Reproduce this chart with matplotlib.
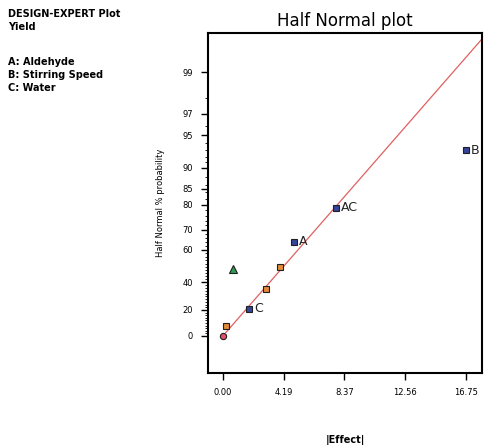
import numpy as np
import matplotlib
matplotlib.use("Agg")
import matplotlib.pyplot as plt
from math import erf, sqrt

# ---- data ----
effects = [0.0, 0.19, 1.81, 2.96, 3.93, 4.91, 7.79, 16.75]
probs = [0.0, 7.8, 20.9, 35.5, 49.7, 64.2, 79.0, 93.0]
labels = ["", "", "C", "", "", "A", "AC", "B"]
kinds = ["red", "orange", "blue", "orange", "orange", "blue", "blue", "blue"]
error_effect = [0.71]
error_prob = [48.9]
line_slope = 0.1626  # z per unit effect

yticks = [0, 20, 40, 60, 70, 80, 85, 90, 95, 97, 99]
xticks = [0.00, 4.19, 8.37, 12.56, 16.75]
xticklabels = ["0.00", "4.19", "8.37", "12.56", "16.75"]


def z_of(p):
    # half-normal quantile of percent p
    q = 0.5 + p / 200.0
    lo, hi = -10.0, 10.0
    for _ in range(80):
        mid = (lo + hi) / 2
        if 0.5 * (1 + erf(mid / sqrt(2))) < q:
            lo = mid
        else:
            hi = mid
    return (lo + hi) / 2


fig = plt.figure(figsize=(4.84, 4.45), dpi=100)
ax = fig.add_axes([0.4298, 0.1618, 0.5661, 0.764])

colors = {"red": ("#e0506a", "o"), "orange": ("#e08a3a", "s"), "blue": ("#34459a", "s")}
for e, p, lab, k in zip(effects, probs, labels, kinds):
    c, m = colors[k]
    ax.plot([e], [z_of(p)], marker=m, ms=4.5, mfc=c, mec="#202020", mew=0.8, ls="none", zorder=3)
    if lab:
        ax.text(e + 0.35, z_of(p), lab, fontsize=9, va="center", ha="left", color="#222222")

ax.plot(error_effect, [z_of(p) for p in error_prob], marker="^", ms=5.5, mfc="#2e9a55",
        mec="#202020", mew=0.8, ls="none", zorder=3)

xs = np.array([0.2, 18.5])
ax.plot(xs, line_slope * xs, color="#e06060", lw=0.9, zorder=2)

ax.set_xlim(-1.03, 17.85)
ax.set_ylim(-0.363, 2.96)

ax.set_xticks(xticks)
ax.set_xticklabels(xticklabels, fontsize=6)
ax.set_yticks([z_of(p) for p in yticks])
ax.set_yticklabels([str(p) for p in yticks], fontsize=6)
minor = list(range(2, 90, 2)) + list(range(90, 99, 1))
ax.set_yticks([z_of(p) for p in minor], minor=True)
ax.tick_params(axis="both", direction="out", width=1.0, length=5, pad=6)
ax.tick_params(axis="y", which="minor", direction="out", width=0.6, length=2.5)
for s in ax.spines.values():
    s.set_linewidth(1.5)

ax.set_title("Half Normal plot", fontsize=12, pad=5)
ax.set_xlabel("|Effect|", fontsize=7, fontweight="bold")
ax.xaxis.set_label_coords(0.5, -0.183)
ax.set_ylabel("Half Normal % probability", fontsize=6, labelpad=12)

fig.text(0.017, 0.968, "DESIGN-EXPERT Plot", fontsize=7, fontweight="bold", va="center")
fig.text(0.017, 0.939, "Yield", fontsize=7, fontweight="bold", va="center")
fig.text(0.017, 0.861, "A: Aldehyde", fontsize=7, fontweight="bold", va="center")
fig.text(0.017, 0.832, "B: Stirring Speed", fontsize=7, fontweight="bold", va="center")
fig.text(0.017, 0.803, "C: Water", fontsize=7, fontweight="bold", va="center")

fig.savefig("out.png", dpi=100)
